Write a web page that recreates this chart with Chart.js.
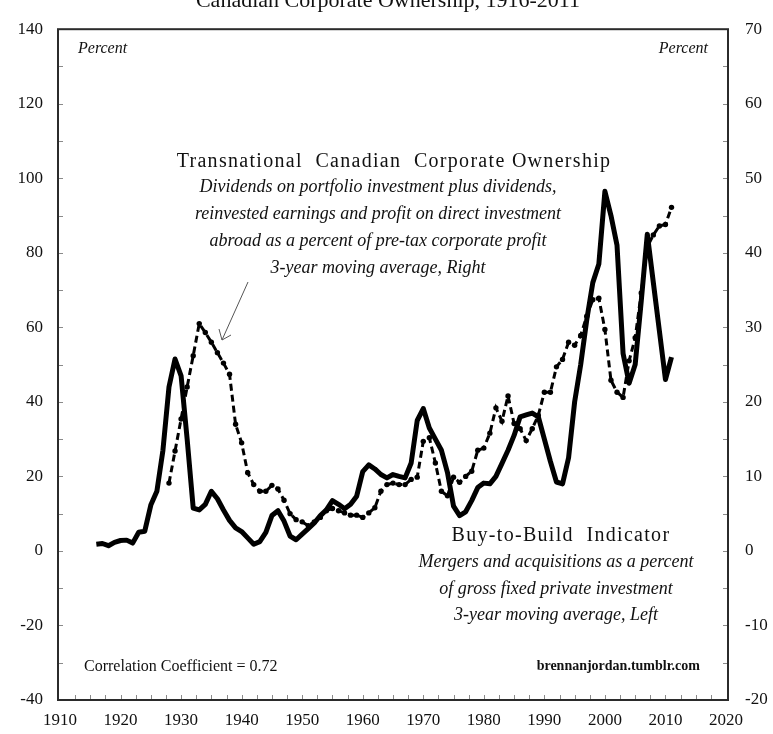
<!DOCTYPE html>
<html lang="en">
<head>
    <meta charset="UTF-8">
    <title>Canadian Corporate Ownership, 1916-2011</title>
    <style>
        body {
            margin: 0;
            padding: 0;
            background: #fff;
            font-family: "Liberation Serif", "DejaVu Serif", serif;
            color: #111;
        }

        #wrap {
            position: relative;
            width: 773px;
            height: 734px;
            overflow: hidden;
        }

        #chart {
            position: absolute;
            left: 0;
            top: 0;
        }

        .txt {
            position: absolute;
            white-space: nowrap;
        }

        .it {
            font-style: italic;
        }
    </style>
    <script src="https://cdn.jsdelivr.net/npm/chart.js"></script>
</head>
<body>

<div id="wrap">
    <canvas id="chart" width="773" height="734"></canvas>

    <div class="txt" style="left:88px; width:600px; top:-11px; font-size:22px; line-height:22px; text-align:center;">Canadian Corporate Ownership, 1916-2011</div>

    <div class="txt it" style="left:78px; top:40px; font-size:16px; line-height:16px;">Percent</div>
    <div class="txt it" style="right:65px; top:40px; font-size:16px; line-height:16px;">Percent</div>

    <!-- right axis series label -->
    <div class="txt" style="left:144px; width:500px; top:150px; font-size:20px; line-height:20px; letter-spacing:1.3px; text-align:center;">Transnational&nbsp; Canadian&nbsp; Corporate Ownership</div>
    <div class="txt it" style="left:128px; width:500px; top:173px; font-size:18px; line-height:27px; text-align:center;">
        Dividends on portfolio investment plus dividends,<br>
        reinvested earnings and profit on direct investment<br>
        abroad as a percent of pre-tax corporate profit<br>
        3-year moving average, Right
    </div>

    <!-- left axis series label -->
    <div class="txt" style="left:361px; width:400px; top:524px; font-size:20px; line-height:20px; letter-spacing:1.3px; text-align:center;">Buy-to-Build&nbsp; Indicator</div>
    <div class="txt it" style="left:356px; width:400px; top:548px; font-size:18px; line-height:26.5px; text-align:center;">
        Mergers and acquisitions as a percent<br>
        of gross fixed private investment<br>
        3-year moving average, Left
    </div>

    <div class="txt" style="left:84px; top:658px; font-size:16px; line-height:16px;">Correlation Coefficient = 0.72</div>
    <div class="txt" style="right:73px; top:659px; font-size:14px; line-height:14px; font-weight:bold;">brennanjordan.tumblr.com</div>

    <!-- arrow pointing at the dashed series -->
    <svg class="txt" style="left:0; top:0;" width="773" height="734">
        <line x1="248" y1="282" x2="222" y2="340" stroke="#555" stroke-width="1"/>
        <polyline points="219,329 222,340 231,335" fill="none" stroke="#555" stroke-width="1"/>
    </svg>
</div>

<script>
    // Buy-to-Build indicator, percent, left axis, 1916-2011
    const buildStart = 1916;
    const buyToBuild = [
        1.8, 2.0, 1.4, 2.3, 2.8, 2.9, 2.1, 5.0, 5.3, 12.3,
        16.0, 27.0, 44.0, 51.5, 47.0, 30.0, 11.5, 11.0, 12.5, 16.0,
        14.0, 11.0, 8.2, 6.2, 5.2, 3.5, 1.8, 2.5, 5.0, 9.5,
        10.8, 8.0, 4.0, 3.0, 4.5, 6.0, 7.5, 9.5, 11.0, 13.5,
        12.5, 11.3, 12.5, 14.7, 21.3, 23.1, 22.0, 20.5, 19.6, 20.5,
        20.0, 19.6, 23.6, 35.0, 38.2, 33.0, 30.0, 27.0, 21.0, 12.0,
        9.5, 10.5, 13.5, 17.0, 18.2, 18.0, 20.0, 23.5, 27.0, 31.0,
        36.0, 36.5, 37.0, 36.0, 30.0, 24.0, 18.5, 18.0, 25.0, 40.0,
        50.0, 62.0, 72.0, 77.0, 96.5, 90.0, 82.0, 53.0, 45.0, 50.0,
        67.0, 85.0, 72.0, 59.0, 46.0, 52.0
    ];

    // Transnational corporate ownership, percent, right axis, 1928-2011
    const transStart = 1928;
    const transnational = [
        9.1, 13.4, 17.7, 22.0, 26.2, 30.5, 29.3, 28.0, 26.6, 25.2,
        23.7, 17.0, 14.5, 10.5, 8.9, 8.0, 8.0, 8.8, 8.3, 6.8,
        5.0, 4.2, 3.9, 3.4, 3.9, 4.5, 5.4, 5.7, 5.4, 5.1,
        4.8, 4.8, 4.5, 5.1, 5.8, 8.0, 8.9, 9.1, 8.9, 8.9,
        9.6, 9.9, 14.7, 15.2, 11.8, 8.0, 7.4, 9.9, 9.2, 10.0,
        10.7, 13.5, 13.8, 15.8, 19.2, 17.4, 20.8, 17.1, 16.4, 14.8,
        16.4, 18.2, 21.3, 21.3, 24.7, 25.7, 28.0, 27.6, 28.9, 31.5,
        33.7, 33.9, 29.7, 22.9, 21.3, 20.6, 25.5, 28.6, 34.6, 40.8,
        42.4, 43.6, 43.8, 46.1
    ];

    // axis ranges
    const xRange = [1910, 2020];
    const leftRange = [-40, 140];
    const rightRange = [-20, 70];

    const tickFont = { family: 'Liberation Serif', size: 17 };

    // inward tick marks and the dark frame round the plot
    const framePlugin = {
        id: 'frame',
        beforeDatasetsDraw(chart) {
            const { ctx, chartArea: a, scales } = chart;
            const l = a.left - 2, r = a.right + 2;
            ctx.save();
            ctx.strokeStyle = '#8a8a8a';
            ctx.lineWidth = 1;
            ctx.beginPath();
            for (let v = leftRange[0] + 10; v < leftRange[1]; v += 10) {
                const y = Math.round(scales.yL.getPixelForValue(v)) + 0.5;
                ctx.moveTo(l, y); ctx.lineTo(l + 5, y);
                ctx.moveTo(r - 5, y); ctx.lineTo(r, y);
            }
            for (let v = xRange[0] + 2.5; v < xRange[1]; v += 2.5) {
                const x = Math.round(scales.x.getPixelForValue(v)) + 0.5;
                ctx.moveTo(x, a.bottom); ctx.lineTo(x, a.bottom - 5);
            }
            ctx.stroke();
            ctx.strokeStyle = '#2b2b2b';
            ctx.lineWidth = 2;
            ctx.strokeRect(l, a.top, r - l, a.bottom - a.top);
            ctx.restore();
        }
    };

    new Chart(document.getElementById('chart'), {
        type: 'line',
        data: {
            datasets: [
                {
                    label: 'Transnational Canadian Corporate Ownership',
                    data: transnational.map((v, i) => ({ x: transStart + i, y: v })),
                    yAxisID: 'yR',
                    borderColor: '#000',
                    borderWidth: 3,
                    borderDash: [7, 4],
                    pointRadius: 2.7,
                    pointBackgroundColor: '#000',
                    pointBorderWidth: 0,
                    tension: 0,
                    order: 0
                },
                {
                    label: 'Buy-to-Build Indicator',
                    data: buyToBuild.map((v, i) => ({ x: buildStart + i, y: v })),
                    yAxisID: 'yL',
                    borderColor: '#000',
                    borderWidth: 5,
                    borderJoinStyle: 'round',
                    pointRadius: 0,
                    tension: 0,
                    order: 1
                }
            ]
        },
        options: {
            responsive: false,
            devicePixelRatio: 1,
            animation: false,
            events: [],
            layout: { padding: { top: 22, left: 0, right: 0, bottom: 0 } },
            plugins: {
                legend: { display: false },
                title: { display: false },
                tooltip: { enabled: false }
            },
            scales: {
                x: {
                    type: 'linear',
                    position: 'bottom',
                    min: xRange[0],
                    max: xRange[1],
                    grid: { display: false, drawTicks: false },
                    border: { display: false },
                    ticks: {
                        stepSize: 10, font: tickFont, color: '#111', padding: 10, maxRotation: 0,
                        callback: v => String(v)
                    },
                    afterFit(s) { s.height = 34; }
                },
                yL: {
                    position: 'left',
                    min: leftRange[0],
                    max: leftRange[1],
                    grid: { display: false, drawTicks: false },
                    border: { display: false },
                    ticks: { stepSize: 20, font: tickFont, color: '#111', padding: 17 },
                    afterFit(s) { s.width = 60; }
                },
                yR: {
                    position: 'right',
                    min: rightRange[0],
                    max: rightRange[1],
                    grid: { display: false, drawTicks: false },
                    border: { display: false },
                    ticks: { stepSize: 10, font: tickFont, color: '#111', padding: 19 },
                    afterFit(s) { s.width = 47; }
                }
            }
        },
        plugins: [framePlugin]
    });
</script>

</body>
</html>
